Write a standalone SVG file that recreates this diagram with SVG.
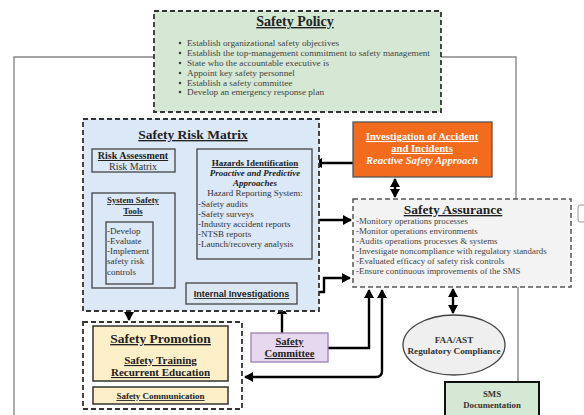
<svg xmlns="http://www.w3.org/2000/svg" width="584" height="415" viewBox="0 0 584 415">
<style>
text{font-family:"Liberation Serif","Times New Roman",serif;}
.t{font-weight:bold;text-decoration:underline;fill:#222;}
.b{font-size:9.2px;fill:#444;}
.dash{stroke:#333;stroke-width:1.8;stroke-dasharray:5 3;}
.box{stroke:#444;stroke-width:1.3;}
.ar{stroke:#000;stroke-width:2.4;fill:none;}
.gl{stroke:#888;stroke-width:1.4;fill:none;}
</style>
<defs>
<marker id="ah" markerWidth="10" markerHeight="10" refX="8" refY="5" orient="auto-start-reverse" markerUnits="userSpaceOnUse">
<path d="M0,0 L9,5 L0,10 Z" fill="#000"/>
</marker>
</defs>
<rect width="584" height="415" fill="#fff"/>
<g id="connectors">
<polyline class="gl" points="154,57 14,57 14,415"/>
<polyline class="gl" points="441,57 516,57 516,199"/>
<line class="gl" x1="518" y1="287" x2="518" y2="382"/>
<line class="ar" x1="355" y1="163" x2="314" y2="163" marker-end="url(#ah)"/>
<line class="ar" x1="197" y1="160" x2="177" y2="160" marker-end="url(#ah)"/>
<line class="ar" x1="132" y1="172" x2="132" y2="192" marker-end="url(#ah)"/>
<line class="ar" x1="129" y1="288" x2="129" y2="320" marker-end="url(#ah)"/>
<line class="ar" x1="312" y1="220" x2="351" y2="220" marker-end="url(#ah)"/>
<polyline class="ar" points="297,292 324,292 324,278 350,278" marker-end="url(#ah)"/>
<line class="ar" x1="282" y1="333" x2="282" y2="306" marker-end="url(#ah)"/>
<polyline class="ar" points="328,348 369,348 369,290" marker-end="url(#ah)"/>
<path class="ar" d="M382,290 L382,371 Q382,377 376,377 L245,377" marker-start="url(#ah)" marker-end="url(#ah)"/>
<line class="ar" x1="395" y1="179" x2="395" y2="197" marker-start="url(#ah)" marker-end="url(#ah)"/>
<line class="ar" x1="453" y1="289" x2="453" y2="313" marker-start="url(#ah)" marker-end="url(#ah)"/>
</g>
<g id="safety-policy">
<rect x="154" y="11" width="287" height="101" fill="#d5e8d4" class="dash"/>
<text x="295" y="26" text-anchor="middle" font-size="14" class="t">Safety Policy</text>
<g class="b">
<text x="187" y="46">Establish organizational safety objectives</text>
<text x="187" y="56">Establish the top-management commitment to safety management</text>
<text x="187" y="66">State who the accountable executive is</text>
<text x="187" y="76">Appoint key safety personnel</text>
<text x="187" y="86">Establish a safety committee</text>
<text x="187" y="95">Develop an emergency response plan</text>
</g>
<g fill="#444">
<circle cx="180" cy="43" r="1.3"/><circle cx="180" cy="53" r="1.3"/><circle cx="180" cy="63" r="1.3"/>
<circle cx="180" cy="73" r="1.3"/><circle cx="180" cy="83" r="1.3"/><circle cx="180" cy="92" r="1.3"/>
</g>
</g>
<g id="safety-risk-matrix">
<rect x="83" y="119" width="236" height="192" fill="#dae8f8" class="dash"/>
<text x="193" y="139" text-anchor="middle" font-size="13.5" class="t">Safety Risk Matrix</text>
</g>
<g id="risk-assessment">
<rect x="92" y="149" width="83" height="23" fill="#dae8f8" class="box"/>
<text x="133" y="159" text-anchor="middle" font-size="10" class="t">Risk Assessment</text>
<text x="133" y="169.5" text-anchor="middle" font-size="10" fill="#333">Risk Matrix</text>
</g>
<g id="system-safety-tools">
<rect x="92" y="193" width="83" height="95" fill="#dae8f8" class="box"/>
<text x="133" y="203" text-anchor="middle" font-size="8.7" class="t">System Safety</text>
<text x="133" y="214" text-anchor="middle" font-size="8.7" class="t">Tools </text>
<rect x="106" y="222" width="47" height="62" fill="#dae8f8" class="box"/>
<g font-size="9" fill="#333">
<text x="107" y="234">-Develop</text>
<text x="107" y="244">-Evaluate</text>
<text x="107" y="254">-Implement</text>
<text x="107" y="264">safety risk</text>
<text x="107" y="275">controls</text>
</g>
</g>
<g id="hazards-identification">
<rect x="197" y="149" width="115" height="110" fill="#dae8f8" class="box"/>
<text x="255" y="166" text-anchor="middle" font-size="9" class="t">Hazards Identification</text>
<text x="255" y="176" text-anchor="middle" font-size="9" font-weight="bold" font-style="italic" fill="#222">Proactive and Predictive</text>
<text x="255" y="186" text-anchor="middle" font-size="9" font-weight="bold" font-style="italic" fill="#222">Approaches</text>
<text x="255" y="196" text-anchor="middle" font-size="9" fill="#333">Hazard Reporting System:</text>
<g font-size="9" fill="#333">
<text x="198" y="207">-Safety audits</text>
<text x="198" y="217">-Safety surveys</text>
<text x="198" y="227">-Industry accident reports</text>
<text x="198" y="237">-NTSB reports</text>
<text x="198" y="247">-Launch/recovery analysis</text>
</g>
</g>
<g id="internal-investigations">
<rect x="186" y="283" width="111" height="21" fill="#dbe6f3" class="box"/>
<text x="241.5" y="297" text-anchor="middle" font-size="9" style="font-family:'Liberation Sans',Arial,sans-serif" class="t">Internal Investigations</text>
</g>
<g id="investigation-accidents">
<rect x="353" y="122" width="139" height="55" fill="#f36b1c" stroke="#555" stroke-width="1.3"/>
<text x="422" y="140" text-anchor="middle" font-size="10.6" font-weight="bold" text-decoration="underline" fill="#fff">Investigation of Accident </text>
<text x="422" y="152" text-anchor="middle" font-size="10.6" font-weight="bold" text-decoration="underline" fill="#fff">and Incidents</text>
<text x="422" y="164" text-anchor="middle" font-size="10.6" font-weight="bold" font-style="italic" fill="#fff">Reactive Safety Approach</text>
</g>
<g id="safety-assurance">
<rect x="353" y="199" width="218" height="88" fill="#f3f3f3" stroke="#555" stroke-width="1.5" stroke-dasharray="5 3"/>
<text x="453" y="214" text-anchor="middle" font-size="13.5" class="t">Safety Assurance</text>
<g font-size="8.9" fill="#444">
<text x="356" y="224">-Monitory operations processes</text>
<text x="356" y="234">-Monitor operations environments</text>
<text x="356" y="244">-Audits operations processes &amp; systems</text>
<text x="356" y="254">-Investigate noncompliance with regulatory standards</text>
<text x="356" y="264">-Evaluated efficacy of safety risk controls</text>
<text x="356" y="274">-Ensure continuous improvements of the SMS</text>
</g>
</g>
<g id="edge-shape">
<rect x="578" y="205" width="12" height="17" rx="2" fill="#fff" stroke="#999" stroke-width="1"/>
</g>
<g id="faa-ast">
<ellipse cx="454" cy="345" rx="51" ry="30" fill="#efefef" stroke="#444" stroke-width="1.3"/>
<text x="454" y="343" text-anchor="middle" font-size="9.2" font-weight="bold" fill="#333">FAA/AST</text>
<text x="454" y="354" text-anchor="middle" font-size="9.2" font-weight="bold" fill="#333">Regulatory Compliance</text>
</g>
<g id="sms-documentation">
<rect x="445" y="382" width="94" height="40" fill="#d5e8d4" stroke="#111" stroke-width="2"/>
<text x="492" y="397" text-anchor="middle" font-size="8.8" font-weight="bold" fill="#333">SMS</text>
<text x="492" y="408" text-anchor="middle" font-size="8.8" font-weight="bold" fill="#333">Documentation</text>
</g>
<g id="safety-committee">
<rect x="251" y="333" width="77" height="29" fill="#e6d8ee" stroke="#9b80b3" stroke-width="1.3"/>
<text x="289.5" y="345" text-anchor="middle" font-size="10.6" class="t">Safety</text>
<text x="289.5" y="357" text-anchor="middle" font-size="10.6" class="t">Committee </text>
</g>
<g id="safety-promotion">
<rect x="83" y="322" width="159" height="87" fill="#fff" class="dash"/>
<rect x="93" y="326" width="135" height="55" fill="#fdf0c8" stroke="#333" stroke-width="1.5"/>
<text x="160.5" y="343" text-anchor="middle" font-size="13.5" class="t">Safety Promotion</text>
<text x="160.5" y="364" text-anchor="middle" font-size="11" class="t">Safety Training</text>
<text x="160.5" y="376" text-anchor="middle" font-size="11" class="t">Recurrent Education</text>
<rect x="93" y="387" width="135" height="17" fill="#fdf0c8" stroke="#333" stroke-width="1.5"/>
<text x="160.5" y="399" text-anchor="middle" font-size="9" class="t">Safety Communication</text>
</g>
</svg>
